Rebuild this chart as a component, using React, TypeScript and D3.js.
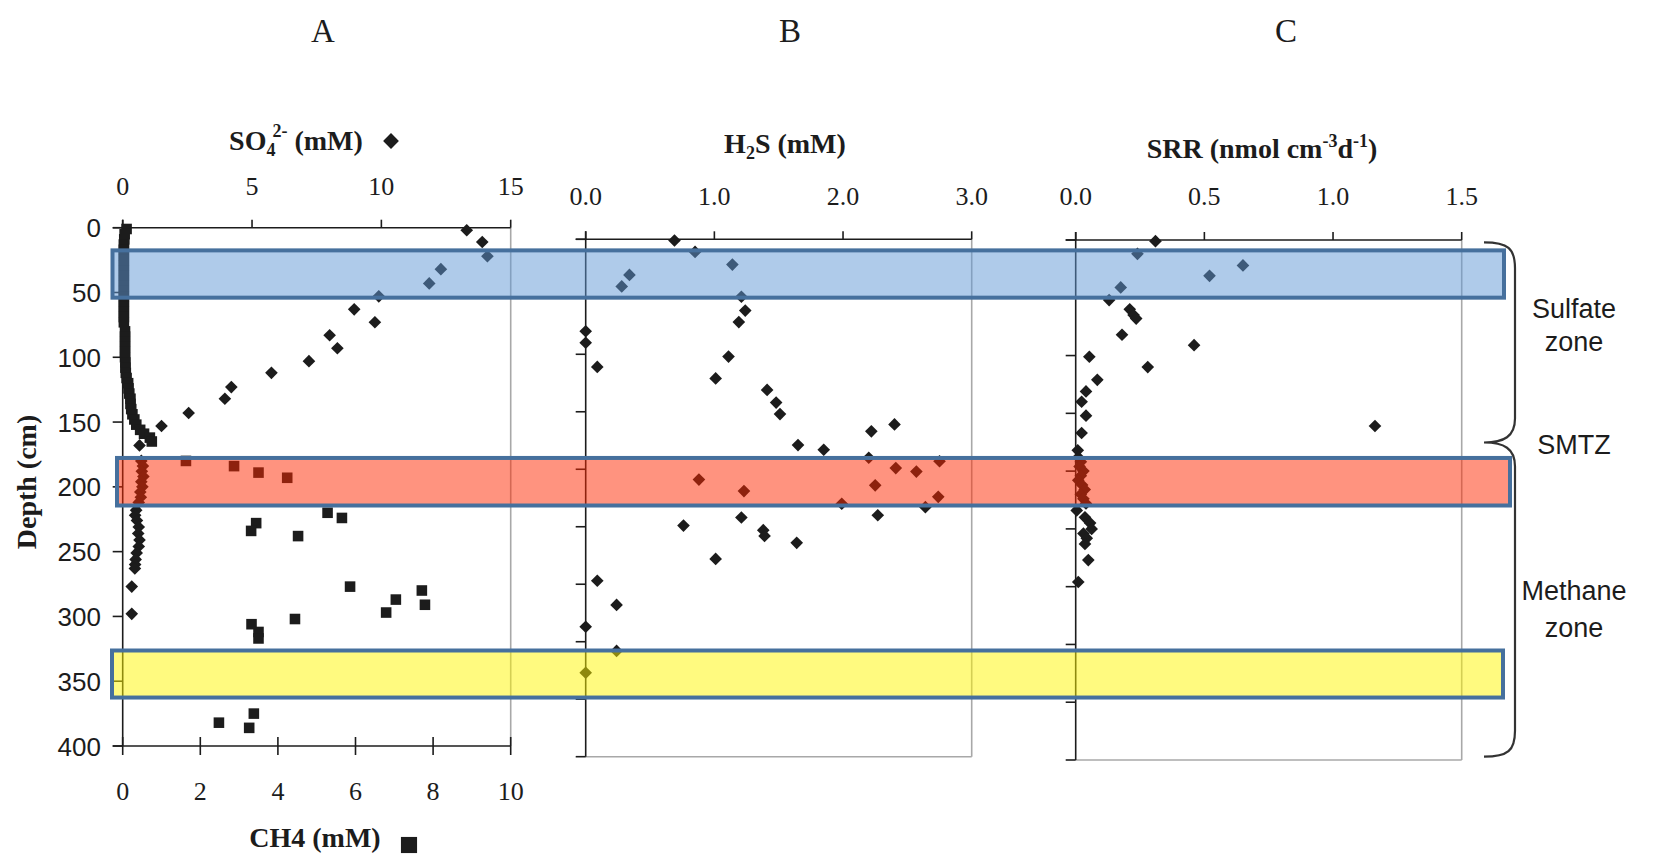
import React from 'react';
import * as d3 from 'd3';

// ---------------- DATA ----------------
// Panel A : sulfate (diamonds), depth in cm
const so4Depth = [2, 11, 22, 32, 43, 53, 63, 73, 83, 93, 103, 112, 123, 132, 143, 153, 168,
  180, 184, 188, 192, 196, 200, 204, 208, 212, 218, 222, 226, 231, 236, 241, 246, 251, 256, 260, 263, 277, 298];
const so4Value = [13.3, 13.9, 14.1, 12.3, 11.85, 9.9, 8.95, 9.75, 8.0, 8.3, 7.2, 5.75, 4.2, 3.95, 2.55, 1.5, 0.65,
  0.72, 0.78, 0.74, 0.8, 0.72, 0.76, 0.68, 0.7, 0.62, 0.52, 0.48, 0.55, 0.62, 0.6, 0.65, 0.62, 0.54, 0.5, 0.48, 0.47, 0.35, 0.35];

// Panel A : methane (squares), depth in cm
const ch4Depth = [1, 5, 9, 13, 17, 21, 25, 29, 33, 37, 41, 45, 49, 53, 57, 61, 65, 69, 73,
  80, 84, 88, 92, 96, 100, 104, 108, 112, 116, 120, 124, 128, 132, 136, 140, 144, 148, 152, 156, 159, 162, 165,
  180, 184, 189, 193, 220, 224, 228, 234, 238, 277, 280, 287, 291, 297, 302, 306, 312, 317, 375, 382, 386];
const ch4Value = [0.1, 0.05, 0.04, 0.03, 0.03, 0.03, 0.03, 0.03, 0.03, 0.03, 0.03, 0.03, 0.03, 0.03, 0.03, 0.03, 0.03, 0.03, 0.03,
  0.06, 0.06, 0.06, 0.06, 0.06, 0.06, 0.07, 0.07, 0.08, 0.1, 0.14, 0.15, 0.17, 0.2, 0.2, 0.22, 0.25, 0.3, 0.35, 0.45, 0.55, 0.7, 0.75,
  1.63, 2.87, 3.5, 4.24, 5.28, 5.65, 3.44, 3.31, 4.52, 5.86, 7.71, 7.04, 7.79, 6.79, 4.44, 3.32, 3.5, 3.5, 3.38, 2.48, 3.26];

// Panel B : H2S (mM)
const h2sDepth = [1, 11, 22, 31, 41, 50, 62, 72, 80, 90, 102, 111, 121, 131, 142, 152, 161, 167, 179, 183,
  190, 193, 199, 202, 209, 214, 219, 224, 230, 233, 240, 242, 249, 253, 258, 264, 278, 297, 318, 337, 358, 377];
const h2sValue = [0.69, 0.85, 1.14, 0.34, 0.28, 1.21, 1.24, 1.19, 0.0, 0.0, 1.11, 0.09, 1.01, 1.41, 1.48, 1.51, 2.4, 2.22, 1.65, 1.85,
  2.2, 2.75, 2.41, 2.57, 0.88, 2.25, 1.23, 2.74, 1.99, 2.64, 2.27, 1.21, 0.76, 1.38, 1.39, 1.64, 1.01, 0.09, 0.24, 0.0, 0.24, 0.0];

// Panel C : SRR (nmol cm-3 d-1)
const srrDepth = [1, 12, 22, 31, 41, 52, 60, 65, 68, 82, 91, 101, 110, 121, 131, 140, 152, 161, 167, 182,
  188, 192, 196, 200, 204, 208, 212, 216, 220, 224, 228, 234, 240, 245, 250, 254, 258, 263, 277, 296];
const srrValue = [0.31, 0.24, 0.65, 0.52, 0.175, 0.13, 0.21, 0.225, 0.235, 0.18, 0.46, 0.053, 0.28, 0.084, 0.04, 0.023, 0.04, 1.163, 0.023, 0.008,
  0.01, 0.02, 0.015, 0.03, 0.02, 0.01, 0.025, 0.035, 0.02, 0.03, 0.04, 0.004, 0.036, 0.056, 0.062, 0.03, 0.043, 0.036, 0.049, 0.01];

// ticks
const so4Ticks = [0, 5, 10, 15];
const ch4Ticks = [0, 2, 4, 6, 8, 10];
const depthTicksA = [0, 50, 100, 150, 200, 250, 300, 350, 400];
const h2sTicks = [0, 1, 2, 3];
const srrTicks = [0, 0.5, 1, 1.5];
const depthTicksBC = [0, 50, 100, 150, 200, 250, 300, 350, 400, 450];

// highlighted depth bands (panel A depth, cm)
const bandTop = [17.5, 177.7, 326.3];
const bandBottom = [54, 214.4, 362.6];
// zones (panel B/C depth scale)
const zoneBounds = [0, 175, 450];
const zoneNames = [['Sulfate', 'zone'], ['SMTZ'], ['Methane', 'zone']];

// ---------------- STYLE ----------------
const serif = '"Liberation Serif","Times New Roman",Times,serif';
const sans = '"Liberation Sans",Arial,Helvetica,sans-serif';
const ink = '#1c1c1c';
const grey = '#a8a8a8';
const bandFill = ['rgb(95,152,213)', 'rgb(255,40,0)', 'rgb(255,245,0)'];
const bandX = [[112.5, 1504], [117, 1510], [112, 1503]];
const bandStroke = '#46709d';

const diamond = d3.symbol().type(d3.symbolSquare).size(80)() as string;
const square = d3.symbol().type(d3.symbolSquare).size(112)() as string;
const bigDiamond = d3.symbol().type(d3.symbolSquare).size(125)() as string;
const bigSquare = d3.symbol().type(d3.symbolSquare).size(260)() as string;

function fmt1(v: number) { return v.toFixed(1); }

export default function App() {
  const xSO4 = d3.scaleLinear().domain([0, 15]).range([122.7, 510.7]);
  const xCH4 = d3.scaleLinear().domain([0, 10]).range([122.7, 510.7]);
  const yA = d3.scaleLinear().domain([0, 400]).range([227.7, 746]);
  const xH2S = d3.scaleLinear().domain([0, 3]).range([585.7, 971.7]);
  const yB = d3.scaleLinear().domain([0, 450]).range([239.3, 756.7]);
  const xSRR = d3.scaleLinear().domain([0, 1.5]).range([1075.7, 1461.7]);
  const yC = d3.scaleLinear().domain([0, 450]).range([240, 760]);

  const topAxis = (x: d3.ScaleLinear<number, number>, y0: number, ticks: number[], labels: string[], labelY: number, key: string) => (
    <g key={key}>
      <line x1={x.range()[0] - 10} x2={x.range()[1]} y1={y0} y2={y0} stroke={ink} strokeWidth={1.6} />
      {ticks.map((t, i) => (
        <g key={i}>
          <line x1={x(t)} x2={x(t)} y1={y0} y2={y0 - 8} stroke={ink} strokeWidth={1.6} />
          <text x={x(t)} y={labelY} textAnchor="middle" fontFamily={serif} fontSize={26} fill={ink}>{labels[i]}</text>
        </g>
      ))}
    </g>
  );

  const leftAxis = (y: d3.ScaleLinear<number, number>, x0: number, ticks: number[], key: string) => (
    <g key={key}>
      <line x1={x0} x2={x0} y1={y.range()[0] - 8} y2={y.range()[1]} stroke={ink} strokeWidth={1.6} />
      {ticks.map((t, i) => (
        <line key={i} x1={x0 - 10} x2={x0} y1={y(t)} y2={y(t)} stroke={ink} strokeWidth={1.6} />
      ))}
    </g>
  );

  // bracket
  const bx0 = 1484, bx1 = 1515;
  const zTop = yB(zoneBounds[0]) + 3, zMid = yB(zoneBounds[1]) + 2, zBot = yB(zoneBounds[2]);
  const bracketPath = `M${bx0},${zTop} C${bx0 + 24},${zTop} ${bx1},${zTop + 6} ${bx1},${zTop + 26} L${bx1},${zMid - 24} C${bx1},${zMid - 6} ${bx0 + 20},${zMid} ${bx0},${zMid} C${bx0 + 20},${zMid} ${bx1},${zMid + 6} ${bx1},${zMid + 24} L${bx1},${zBot - 26} C${bx1},${zBot - 6} ${bx0 + 24},${zBot} ${bx0},${zBot}`;

  return (
    <svg width={1656} height={854} viewBox="0 0 1656 854" style={{ position: 'absolute', left: 0, top: 0, background: '#fff' }}>
      <rect x={0} y={0} width={1656} height={854} fill="#fff" />

      {/* panel titles */}
      <text x={323} y={42} textAnchor="middle" fontFamily={serif} fontSize={33} fill={ink}>A</text>
      <text x={790} y={42} textAnchor="middle" fontFamily={serif} fontSize={33} fill={ink}>B</text>
      <text x={1286} y={42} textAnchor="middle" fontFamily={serif} fontSize={33} fill={ink}>C</text>

      {/* ---------- Panel A ---------- */}
      <line x1={510.7} x2={510.7} y1={227.7} y2={746} stroke={grey} strokeWidth={1.6} />
      {topAxis(xSO4, 227.7, so4Ticks, so4Ticks.map(String), 195, 'aTop')}
      {leftAxis(yA, 122.7, depthTicksA, 'aLeft')}
      {/* bottom CH4 axis */}
      <line x1={112.7} x2={510.7} y1={746} y2={746} stroke={ink} strokeWidth={1.6} />
      {ch4Ticks.map((t, i) => (
        <g key={'cb' + i}>
          <line x1={xCH4(t)} x2={xCH4(t)} y1={737} y2={755} stroke={ink} strokeWidth={1.6} />
          <text x={xCH4(t)} y={800} textAnchor="middle" fontFamily={serif} fontSize={26} fill={ink}>{t}</text>
        </g>
      ))}
      {depthTicksA.map((t, i) => (
        <text key={'dl' + i} x={101} y={yA(t) + 9.5} textAnchor="end" fontFamily={sans} fontSize={26} fill={ink}>{t}</text>
      ))}
      <text transform="translate(36,482) rotate(-90)" textAnchor="middle" fontFamily={serif} fontWeight="bold" fontSize={28} fill={ink}>Depth (cm)</text>

      <text x={296} y={150} textAnchor="middle" fontFamily={serif} fontWeight="bold" fontSize={28} fill={ink}>
        SO<tspan fontSize={18} dy={6}>4</tspan><tspan fontSize={18} dx={-3} dy={-19}>2-</tspan><tspan dy={13}> (mM)</tspan>
      </text>
      <path d={bigDiamond} transform="translate(391,141) rotate(45)" fill={ink} />
      <text x={315} y={847} textAnchor="middle" fontFamily={serif} fontWeight="bold" fontSize={28} fill={ink}>CH4 (mM)</text>
      <path d={bigSquare} transform="translate(409,845)" fill={ink} />

      {ch4Depth.map((d, i) => (
        <path key={'ch' + i} d={square} transform={`translate(${xCH4(ch4Value[i])},${yA(d)})`} fill={ink} />
      ))}
      {so4Depth.map((d, i) => (
        <path key={'so' + i} d={diamond} transform={`translate(${xSO4(so4Value[i])},${yA(d)}) rotate(45)`} fill={ink} />
      ))}

      {/* ---------- Panel B ---------- */}
      <line x1={971.7} x2={971.7} y1={239.3} y2={756.7} stroke={grey} strokeWidth={1.6} />
      <line x1={585.7} x2={971.7} y1={756.7} y2={756.7} stroke={grey} strokeWidth={1.6} />
      {topAxis(xH2S, 239.3, h2sTicks, h2sTicks.map(fmt1), 205, 'bTop')}
      {leftAxis(yB, 585.7, depthTicksBC, 'bLeft')}
      <text x={785} y={153} textAnchor="middle" fontFamily={serif} fontWeight="bold" fontSize={28} fill={ink}>
        H<tspan fontSize={18} dy={6}>2</tspan><tspan dy={-6}>S (mM)</tspan>
      </text>
      {h2sDepth.map((d, i) => (
        <path key={'h' + i} d={diamond} transform={`translate(${xH2S(h2sValue[i])},${yB(d)}) rotate(45)`} fill={ink} />
      ))}

      {/* ---------- Panel C ---------- */}
      <line x1={1461.7} x2={1461.7} y1={240} y2={760} stroke={grey} strokeWidth={1.6} />
      <line x1={1075.7} x2={1461.7} y1={760} y2={760} stroke={grey} strokeWidth={1.6} />
      {topAxis(xSRR, 240, srrTicks, srrTicks.map(fmt1), 205, 'cTop')}
      {leftAxis(yC, 1075.7, depthTicksBC, 'cLeft')}
      <text x={1262} y={158} textAnchor="middle" fontFamily={serif} fontWeight="bold" fontSize={28} fill={ink}>
        SRR (nmol cm<tspan fontSize={18} dy={-11}>-3</tspan><tspan dy={11}>d</tspan><tspan fontSize={18} dy={-11}>-1</tspan><tspan dy={11}>)</tspan>
      </text>
      {srrDepth.map((d, i) => (
        <path key={'s' + i} d={diamond} transform={`translate(${xSRR(srrValue[i])},${yC(d)}) rotate(45)`} fill={ink} />
      ))}

      {/* ---------- bands ---------- */}
      {bandTop.map((t, i) => (
        <rect key={'band' + i} x={bandX[i][0]} y={yA(t)} width={bandX[i][1] - bandX[i][0]} height={yA(bandBottom[i]) - yA(t)}
          fill={bandFill[i]} fillOpacity={0.5} stroke={bandStroke} strokeWidth={4} />
      ))}

      {/* ---------- zones ---------- */}
      <path d={bracketPath} fill="none" stroke="#333" strokeWidth={2.2} />
      <text x={1574} y={318} textAnchor="middle" fontFamily={sans} fontSize={27} fill={ink}>{zoneNames[0][0]}</text>
      <text x={1574} y={351} textAnchor="middle" fontFamily={sans} fontSize={27} fill={ink}>{zoneNames[0][1]}</text>
      <text x={1574} y={454} textAnchor="middle" fontFamily={sans} fontSize={27} fill={ink}>{zoneNames[1][0]}</text>
      <text x={1574} y={600} textAnchor="middle" fontFamily={sans} fontSize={27} fill={ink}>{zoneNames[2][0]}</text>
      <text x={1574} y={637} textAnchor="middle" fontFamily={sans} fontSize={27} fill={ink}>{zoneNames[2][1]}</text>
    </svg>
  );
}
